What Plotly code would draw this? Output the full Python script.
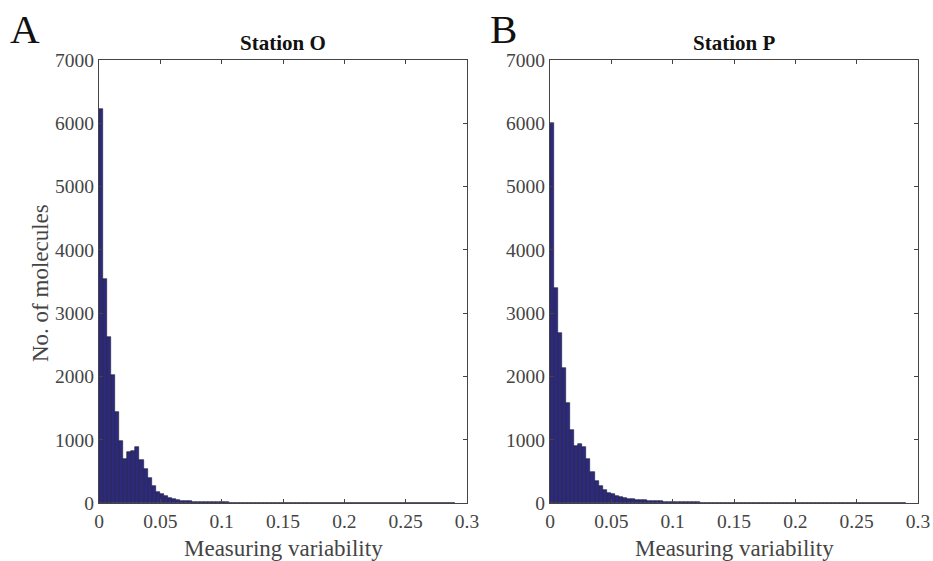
import plotly.graph_objects as go

bin_width = 0.0033
counts_O = [6220, 3540, 2616, 2021, 1432, 979, 690, 800, 821, 879, 679, 532, 400, 274,
            179, 137, 105, 75, 56, 45, 38, 32, 27, 23, 20, 17, 15, 13, 11, 10, 9, 8, 7, 6,
            6, 5, 5, 4, 4, 4, 3, 3, 3, 3, 3, 2, 2, 2, 2, 2, 2, 2, 2, 2, 2, 2, 2, 2, 2, 2,
            2, 2, 2, 2, 2, 2, 2, 2, 2, 2, 2, 2, 2, 2, 2, 2, 2, 2, 2, 2, 2, 2, 2, 2, 2, 2, 2, 2]
counts_P = [6010, 3400, 2689, 2137, 1574, 1150, 900, 935, 889, 689, 495, 340, 268, 205,
            163, 137, 105, 89, 79, 66, 58, 52, 47, 42, 38, 33, 29, 26, 23, 20, 17, 15, 13, 11,
            10, 9, 8, 7, 6, 6, 5, 5, 4, 4, 4, 3, 3, 3, 3, 3, 3, 2, 2, 2, 2, 2, 2, 2, 2, 2,
            2, 2, 2, 2, 2, 2, 2, 2, 2, 2, 2, 2, 2, 2, 2, 2, 2, 2, 2, 2, 2, 2, 2, 2, 2, 2, 2, 2]
titles = ["Station O", "Station P"]
panel_labels = ["A", "B"]
x_ticks = [0, 0.05, 0.1, 0.15, 0.2, 0.25, 0.3]
x_tick_text = ["0", "0.05", "0.1", "0.15", "0.2", "0.25", "0.3"]
y_ticks = [0, 1000, 2000, 3000, 4000, 5000, 6000, 7000]

FONT = "Liberation Serif"
W, H = 933, 561
bar_fill = "#2d2a7c"
bar_edge = "#1b1b3c"


def px(x):
    return x / W


def py(y):
    return 1 - y / H


fig = go.Figure()
x_domains = [[px(99), px(467)], [px(550), px(918)]]
y_domain = [py(503), py(60)]

for i, counts in enumerate([counts_O, counts_P]):
    centers = [(k + 0.5) * bin_width for k in range(len(counts))]
    xa = "x" if i == 0 else "x2"
    ya = "y" if i == 0 else "y2"
    fig.add_trace(go.Bar(x=centers, y=counts, width=bin_width, xaxis=xa, yaxis=ya,
                         marker=dict(color=bar_fill, line=dict(color=bar_edge, width=0.6)),
                         showlegend=False))

axis_common = dict(showline=True, linecolor="#444", linewidth=1.2, mirror="ticks",
                   ticks="inside", ticklen=4, tickcolor="#444", showgrid=False,
                   zeroline=False, automargin=False, ticklabeloverflow="allow",
                   tickfont=dict(family=FONT, size=19.5, color="#444"))

for i in range(2):
    sx = "" if i == 0 else "2"
    fig.layout["xaxis" + sx] = dict(domain=x_domains[i], range=[0, 0.3], tickvals=x_ticks,
                                    ticktext=x_tick_text, anchor="y" + sx, **axis_common)
    fig.layout["yaxis" + sx] = dict(domain=y_domain, range=[0, 7000], tickvals=y_ticks,
                                    anchor="x" + sx, **axis_common)
    cx = (x_domains[i][0] + x_domains[i][1]) / 2
    common = dict(xref="paper", yref="paper", showarrow=False, xanchor="center", yanchor="middle")
    fig.add_annotation(text="<b>" + titles[i] + "</b>", x=cx, y=py(43),
                       font=dict(family=FONT, size=21, color="#111"), **common)
    fig.add_annotation(text="Measuring variability", x=cx, y=py(548),
                       font=dict(family=FONT, size=23, color="#444"), **common)
    fig.add_annotation(text=panel_labels[i], x=px([25, 503][i]), y=py(29),
                       font=dict(family=FONT, size=41, color="#111"), **common)

fig.add_annotation(text="No. of molecules", x=px(40), y=py(283), xref="paper", yref="paper",
                   showarrow=False, textangle=-90, xanchor="center", yanchor="middle",
                   font=dict(family=FONT, size=23, color="#444"))

fig.update_layout(width=W, height=H, margin=dict(l=0, r=0, t=0, b=0, autoexpand=False),
                  template="none", plot_bgcolor="white", paper_bgcolor="white", bargap=0)
fig.write_html("out.html", config={"displayModeBar": False},
               post_script="document.body.style.margin='0';document.body.style.overflow='hidden';")
